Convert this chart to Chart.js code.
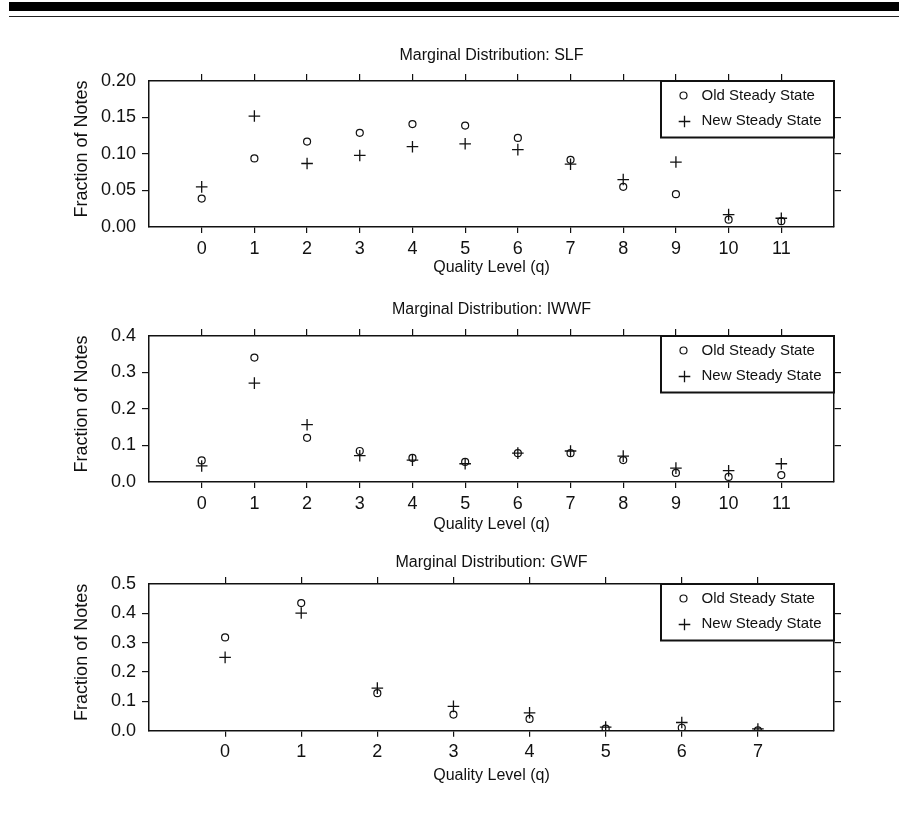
<!DOCTYPE html>
<html>
<head>
<meta charset="utf-8">
<script src="https://cdn.jsdelivr.net/npm/chart.js@4.4.0/dist/chart.umd.min.js"></script>
<style>
body{margin:0;background:#fff;width:899px;height:818px;position:relative;overflow:hidden}
.bar{position:absolute;left:9px;right:0;background:#000}
canvas{position:absolute;left:0}
</style>
</head>
<body>
<div class="bar" style="top:2px;height:9px"></div>
<div class="bar" style="top:15.5px;height:1.7px;background:#222"></div>
<canvas id="slf" width="899" height="250"></canvas>
<canvas id="iwwf" width="899" height="250"></canvas>
<canvas id="gwf" width="899" height="250"></canvas>
<script>
// values
var slfLevels = [0, 1, 2, 3, 4, 5, 6, 7, 8, 9, 10, 11];
var slfOld = [0.039, 0.094, 0.117, 0.129, 0.141, 0.139, 0.122, 0.092, 0.055, 0.045, 0.010, 0.008];
var slfNew = [0.055, 0.152, 0.087, 0.098, 0.110, 0.114, 0.106, 0.086, 0.065, 0.089, 0.017, 0.012];
var slfTicks = [0, 0.05, 0.10, 0.15, 0.20];

var iwwfLevels = [0, 1, 2, 3, 4, 5, 6, 7, 8, 9, 10, 11];
var iwwfOld = [0.059, 0.341, 0.121, 0.085, 0.066, 0.055, 0.079, 0.079, 0.060, 0.025, 0.014, 0.019];
var iwwfNew = [0.044, 0.271, 0.157, 0.072, 0.060, 0.050, 0.079, 0.085, 0.071, 0.038, 0.031, 0.050];
var iwwfTicks = [0, 0.1, 0.2, 0.3, 0.4];

var gwfLevels = [0, 1, 2, 3, 4, 5, 6, 7];
var gwfOld = [0.318, 0.435, 0.128, 0.055, 0.040, 0.007, 0.010, 0.001];
var gwfNew = [0.250, 0.401, 0.145, 0.083, 0.061, 0.0125, 0.028, 0.006];
var gwfTicks = [0, 0.1, 0.2, 0.3, 0.4, 0.5];

var seriesNames = ['Old Steady State', 'New Steady State'];

var FONT = "'Liberation Sans', Arial, sans-serif";
var INK = '#111';
var LEFT = 149, RIGHT = 834, ABOVE = 45, CH = 250;
var CIRCLE_R = 3.5, CROSS_R = 5.8;

function hideEnds(ticks){
    return function(c){
        var v = c.tick && c.tick.value;
        return (v === ticks[0] || v === ticks[ticks.length - 1]) ? 'rgba(0,0,0,0)' : INK;
    };
}

// legend box in the top right corner of the plot
var legendBox = {
    id: 'legendBox',
    afterDraw: function(chart){
        var a = chart.chartArea, ctx = chart.ctx;
        var x0 = a.right - 173, y0 = a.top;
        ctx.save();
        ctx.lineWidth = 2;
        ctx.strokeStyle = INK;
        ctx.strokeRect(x0, y0, 173, 56.5);
        ctx.lineWidth = 1.2;
        ctx.beginPath();
        ctx.arc(x0 + 22.5, y0 + 14.5, CIRCLE_R, 0, Math.PI * 2);
        ctx.stroke();
        ctx.lineWidth = 1.3;
        ctx.beginPath();
        ctx.moveTo(x0 + 23.5 - CROSS_R, y0 + 40.5);
        ctx.lineTo(x0 + 23.5 + CROSS_R, y0 + 40.5);
        ctx.moveTo(x0 + 23.5, y0 + 40.5 - CROSS_R);
        ctx.lineTo(x0 + 23.5, y0 + 40.5 + CROSS_R);
        ctx.stroke();
        ctx.fillStyle = INK;
        ctx.font = '15px ' + FONT;
        ctx.textBaseline = 'middle';
        ctx.textAlign = 'left';
        ctx.fillText(seriesNames[0], x0 + 40.5, y0 + 15);
        ctx.fillText(seriesNames[1], x0 + 40.5, y0 + 40);
        ctx.restore();
    }
};

function drawPanel(id, levels, oldV, newV, yTicks, digits, title, lay){
    var canvas = document.getElementById(id);
    var canvasTop = lay.boxTop - ABOVE;
    canvas.style.top = canvasTop + 'px';
    var boxH = lay.boxBottom - lay.boxTop;
    var xMin = levels[0] - 1, xMax = levels[levels.length - 1] + 1;
    var yMin = yTicks[0], yMax = yTicks[yTicks.length - 1];
    function pts(vals){
        return levels.map(function(q, i){ return {x: q, y: vals[i]}; });
    }
    function xTicks(s){ s.ticks = levels.map(function(v){ return {value: v}; }); }
    function yT(s){ s.ticks = yTicks.map(function(v){ return {value: v}; }); }

    new Chart(canvas, {
        type: 'scatter',
        data: {
            datasets: [{
                label: seriesNames[0],
                data: pts(oldV),
                pointStyle: 'circle',
                pointRadius: CIRCLE_R,
                pointBorderWidth: 1.2,
                pointBorderColor: INK,
                pointBackgroundColor: 'rgba(0,0,0,0)'
            }, {
                label: seriesNames[1],
                data: pts(newV),
                pointStyle: 'cross',
                pointRadius: CROSS_R,
                pointBorderWidth: 1.3,
                pointBorderColor: INK
            }]
        },
        options: {
            responsive: false,
            animation: false,
            devicePixelRatio: 1,
            layout: {padding: 0},
            plugins: {legend: {display: false}, tooltip: {enabled: false}},
            scales: {
                x: {
                    type: 'linear', position: 'bottom', min: xMin, max: xMax,
                    afterBuildTicks: xTicks,
                    afterFit: function(s){ s.height = CH - ABOVE - boxH; },
                    grid: {drawOnChartArea: false, tickLength: 6, color: INK, lineWidth: 1.2},
                    border: {display: true, color: INK, width: 1.5},
                    ticks: {padding: 5, color: INK, font: {family: FONT, size: 18},
                        callback: function(v){ return String(v); }},
                    title: {display: true, text: 'Quality Level (q)', color: INK,
                        font: {family: FONT, size: 16},
                        padding: {top: 0, bottom: CH - (lay.xTitleY - canvasTop) - 9.6}}
                },
                x2: {
                    type: 'linear', axis: 'x', position: 'top', min: xMin, max: xMax,
                    afterBuildTicks: xTicks,
                    afterFit: function(s){ s.height = ABOVE; },
                    grid: {drawOnChartArea: false, tickLength: 7, color: INK, lineWidth: 1.2},
                    border: {display: true, color: INK, width: 1.5},
                    ticks: {display: false},
                    title: {display: true, text: title, color: INK,
                        font: {family: FONT, size: 16},
                        padding: {top: (lay.titleY - canvasTop) - 9.6, bottom: 0}}
                },
                y: {
                    type: 'linear', position: 'left', min: yMin, max: yMax,
                    afterBuildTicks: yT,
                    afterFit: function(s){ s.width = LEFT; },
                    grid: {drawOnChartArea: false, tickLength: 7, color: hideEnds(yTicks), lineWidth: 1.2},
                    border: {display: true, color: INK, width: 1.5},
                    ticks: {padding: 6, color: INK, font: {family: FONT, size: 18},
                        callback: function(v){ return v.toFixed(digits); }},
                    // leading spaces nudge the rotated title a little upward, as in the original
                    title: {display: true, text: '  Fraction of Notes', color: INK,
                        font: {family: FONT, size: 18},
                        padding: {top: 70.9, bottom: 0}}
                },
                y2: {
                    type: 'linear', axis: 'y', position: 'right', min: yMin, max: yMax,
                    afterBuildTicks: yT,
                    afterFit: function(s){ s.width = 899 - RIGHT; },
                    grid: {drawOnChartArea: false, tickLength: 7, color: hideEnds(yTicks), lineWidth: 1.2},
                    border: {display: true, color: INK, width: 1.5},
                    ticks: {display: false}
                }
            }
        },
        plugins: [legendBox]
    });
}

drawPanel('slf', slfLevels, slfOld, slfNew, slfTicks, 2, 'Marginal Distribution: SLF',
    {boxTop: 80.7, boxBottom: 226.7, titleY: 55.5, xTitleY: 267.7});
drawPanel('iwwf', iwwfLevels, iwwfOld, iwwfNew, iwwfTicks, 1, 'Marginal Distribution: IWWF',
    {boxTop: 335.7, boxBottom: 481.7, titleY: 309.4, xTitleY: 524.4});
drawPanel('gwf', gwfLevels, gwfOld, gwfNew, gwfTicks, 1, 'Marginal Distribution: GWF',
    {boxTop: 584.3, boxBottom: 731, titleY: 562.7, xTitleY: 776});
</script>
</body>
</html>
